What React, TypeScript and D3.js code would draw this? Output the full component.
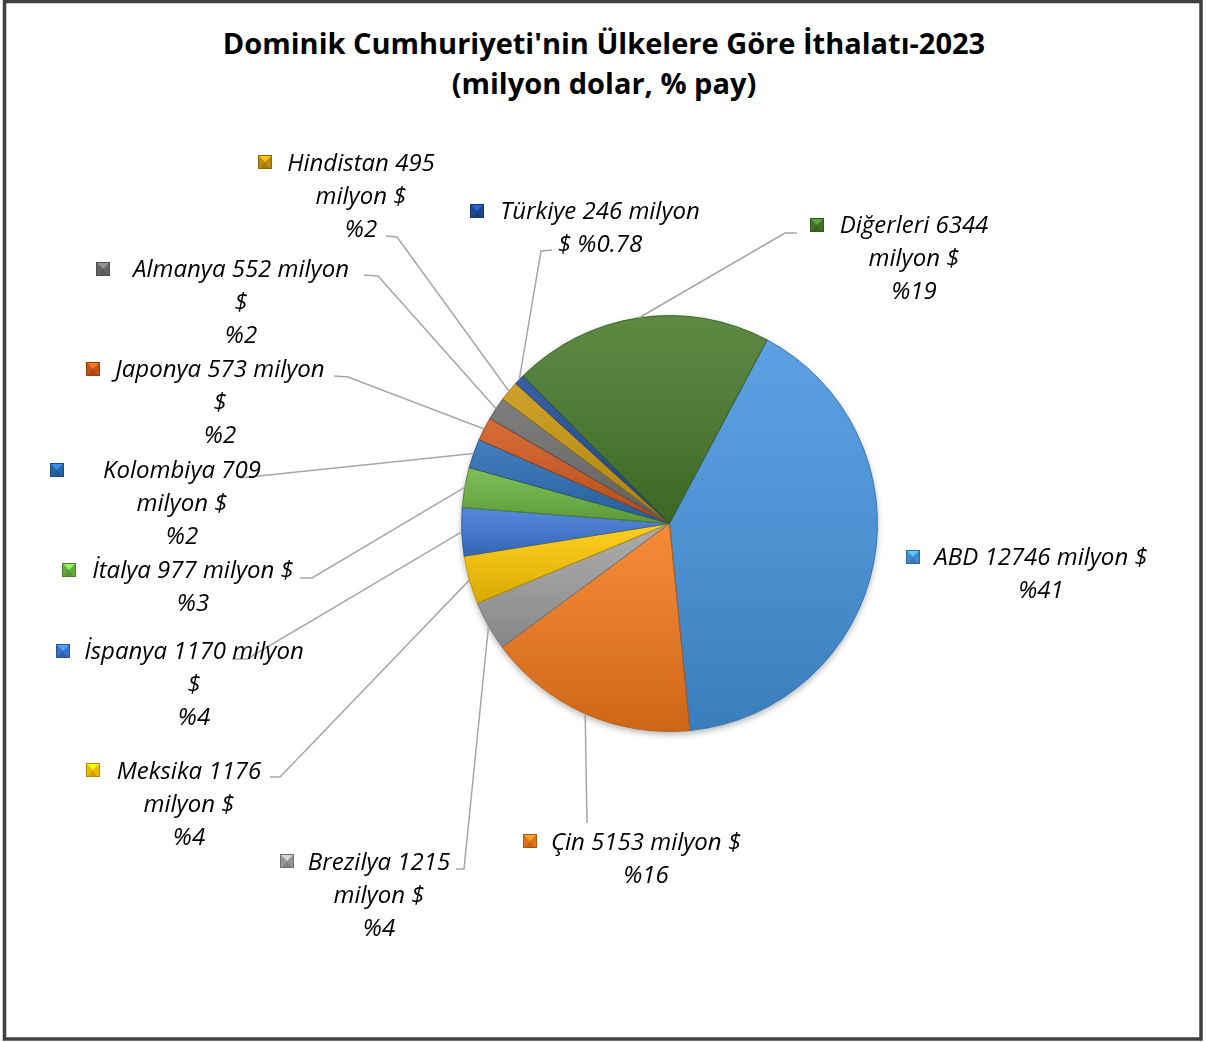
import React from 'react';
import * as d3 from 'd3';

// data
const countries = ['ABD', 'Çin', 'Brezilya', 'Meksika', 'İspanya', 'İtalya', 'Kolombiya', 'Japonya', 'Almanya', 'Hindistan', 'Türkiye', 'Diğerleri'];
const values = [12746, 5153, 1215, 1176, 1170, 977, 709, 573, 552, 495, 246, 6344];
const shares = ['%41', '%16', '%4', '%4', '%4', '%3', '%2', '%2', '%2', '%2', '%0.78', '%19'];
const colors = ['#4595df', '#f57a1c', '#a0a0a0', '#ffc800', '#3e78d6', '#6db543', '#2a6db5', '#d2581a', '#6e6e6e', '#c8960c', '#1f4c9a', '#467a2a'];

const titleLines = ["Dominik Cumhuriyeti'nin Ülkelere Göre İthalatı-2023", '(milyon dolar, % pay)'];

// label placement (manual, like the original)
// wrap: A = [name value, milyon $, share]  B = [name value milyon, $, share]
//       C = [name value milyon $, share]   D = [name value milyon, $ share]
const labelLayout = [
  { wrap: 'C', cx: 1041, by: 565, mx: 906, my: 550, leader: null },
  { wrap: 'C', cx: 646, by: 850, mx: 523, my: 834, leader: [[587, 823]] },
  { wrap: 'A', cx: 379, by: 870, mx: 280, my: 854, leader: [[456, 869], [464, 869]] },
  { wrap: 'A', cx: 189, by: 779, mx: 86, my: 763, leader: [[270, 777], [280, 777]] },
  { wrap: 'B', cx: 194, by: 659, mx: 56, my: 644, leader: [[232, 659], [247, 659]] },
  { wrap: 'C', cx: 193, by: 578, mx: 62, my: 563, leader: [[300, 578], [312, 578]] },
  { wrap: 'A', cx: 182, by: 478, mx: 50, my: 463, leader: [[240, 478]] },
  { wrap: 'B', cx: 220, by: 377, mx: 86, my: 362, leader: [[334, 376], [348, 377]] },
  { wrap: 'B', cx: 241, by: 277, mx: 96, my: 262, leader: [[364, 275], [378, 276]] },
  { wrap: 'A', cx: 361, by: 171, mx: 258, my: 155, leader: [[386, 236], [397, 237]] },
  { wrap: 'D', cx: 600, by: 219, mx: 470, my: 204, leader: [[552, 250], [541, 251]] },
  { wrap: 'A', cx: 914, by: 233, mx: 810, my: 218, leader: [[797, 233], [785, 233]] },
];

const W = 1206;
const H = 1042;
const cx = 669.5;
const cy = 523.5;
const R = 208;
const lineH = 33;
const start = (28 * Math.PI) / 180;
const font = '"Open Sans", sans-serif';

function linesFor(i: number): string[] {
  const n = countries[i];
  const v = values[i];
  const s = shares[i];
  switch (labelLayout[i].wrap) {
    case 'A': return [`${n} ${v}`, 'milyon $', s];
    case 'B': return [`${n} ${v} milyon`, '$', s];
    case 'D': return [`${n} ${v} milyon`, `$ ${s}`];
    default: return [`${n} ${v} milyon $`, s];
  }
}

const App = () => {
  const arcs = d3.pie<number>().sort(null).startAngle(start).endAngle(start + 2 * Math.PI)(values);
  const arc = d3.arc<d3.PieArcDatum<number>>().innerRadius(0).outerRadius(R);
  const rim = d3.arc<d3.PieArcDatum<number>>().innerRadius(R).outerRadius(R);

  return (
    <>
      <style>{'body{margin:0}'}</style>
      <svg width={W} height={H} style={{ display: 'block', fontFamily: font }}>
        <defs>
          <linearGradient id="shade" x1="0" y1="0" x2="0" y2="1">
            <stop offset="0" stopColor="#fff" stopOpacity={0.12} />
            <stop offset="1" stopColor="#000" stopOpacity={0.16} />
          </linearGradient>
          <linearGradient id="rimGrad" gradientUnits="userSpaceOnUse" x1={cx - R} y1={cy - R} x2={cx + R * 0.6} y2={cy + R}>
            <stop offset="0" stopColor="#fff" stopOpacity={0.5} />
            <stop offset="0.5" stopColor="#fff" stopOpacity={0.12} />
            <stop offset="1" stopColor="#000" stopOpacity={0.4} />
          </linearGradient>
          <filter id="shadow" x="-20%" y="-20%" width="140%" height="140%">
            <feDropShadow dx="0" dy="3" stdDeviation="3" floodColor="#000" floodOpacity="0.3" />
          </filter>
          {arcs.map((a, i) => (
            <clipPath id={`clip${i}`} key={i}>
              <path d={arc(a) || ''} transform={`translate(${cx},${cy})`} />
            </clipPath>
          ))}
        </defs>

        <rect x={4.5} y={1.5} width={1196.5} height={1037.5} fill="#fff" stroke="#404040" strokeWidth={3.5} />

        {titleLines.map((t, i) => (
          <text key={t} x={W / 2 + 1} y={54 + i * 40} textAnchor="middle" fontSize={29} fontWeight="bold" fill="#000">{t}</text>
        ))}

        <g filter="url(#shadow)">
          {arcs.map((a, i) => (
            <path key={i} d={arc(a) || ''} transform={`translate(${cx},${cy})`} fill={colors[i]} />
          ))}
        </g>
        {arcs.map((a, i) => (
          <g key={i}>
            <path d={arc(a) || ''} transform={`translate(${cx},${cy})`} fill="url(#shade)" />
            <path d={arc(a) || ''} transform={`translate(${cx},${cy})`} fill="none" stroke="url(#rimGrad)" strokeWidth={10} clipPath={`url(#clip${i})`} />
            <path d={arc(a) || ''} transform={`translate(${cx},${cy})`} fill="none" stroke={d3.color(colors[i])!.darker(0.9).formatHex()} strokeWidth={1} strokeOpacity={0.85} />
          </g>
        ))}

        {arcs.map((a, i) => {
          const L = labelLayout[i];
          if (!L.leader) return null;
          const [px, py] = rim.centroid(a);
          const pts = [...L.leader, [cx + px, cy + py]] as [number, number][];
          return <path key={i} d={d3.line()(pts) || ''} fill="none" stroke="#a6a6a6" strokeWidth={1.5} />;
        })}

        {countries.map((c, i) => {
          const L = labelLayout[i];
          const col = d3.color(colors[i])!;
          const s = 14;
          const { mx, my } = L;
          return (
            <g key={c}>
              <rect x={mx} y={my} width={s} height={s} fill={col.darker(0.2).formatHex()} />
              <polygon points={`${mx},${my} ${mx + s},${my} ${mx + s / 2},${my + s / 2}`} fill={col.brighter(0.8).formatHex()} />
              <polygon points={`${mx + 2},${my + s} ${mx + s - 2},${my + s} ${mx + s / 2},${my + s / 2}`} fill={col.darker(0.6).formatHex()} />
              <rect x={mx + 0.5} y={my + 0.5} width={s - 1} height={s - 1} fill="none" stroke={col.darker(1).formatHex()} strokeWidth={1} />
              {linesFor(i).map((t, j) => (
                <text key={j} x={L.cx} y={L.by + j * lineH} textAnchor="middle" fontSize={24} fontStyle="italic" fill="#000">{t}</text>
              ))}
            </g>
          );
        })}
      </svg>
    </>
  );
};

export default App;
